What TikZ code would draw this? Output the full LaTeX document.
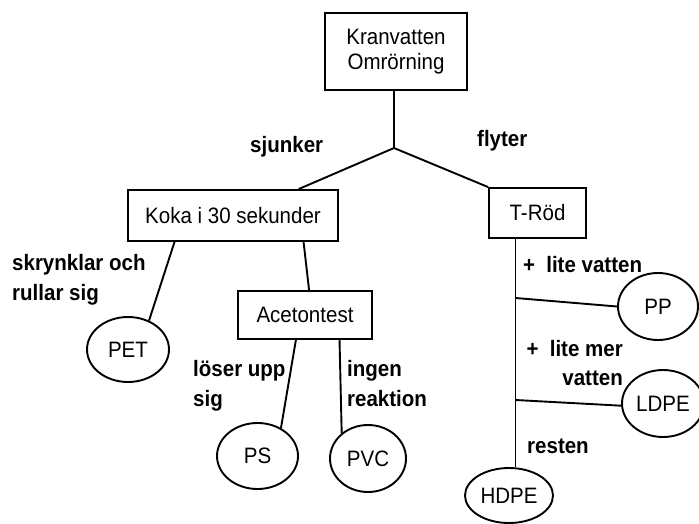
\documentclass[tikz,border=0pt]{standalone}
\usepackage{fontspec}
\setmainfont[FakeStretch=0.92]{Liberation Sans}
\usetikzlibrary{shapes.geometric,calc}
\begin{document}
\begin{tikzpicture}[x=1pt,y=-1pt,
  box/.style={draw, line width=1.9pt, inner sep=0pt, align=center,
    font=\fontsize{22.3}{25.5}\selectfont},
  oval/.style={draw, ellipse, line width=1.9pt, inner sep=0pt,
    font=\fontsize{22.3}{25}\selectfont},
  lbl/.style={inner sep=0pt, font=\fontsize{22.3}{29.5}\selectfont\bfseries},
  con/.style={line width=1.9pt}]
\useasboundingbox (0,0) rectangle (699,524);

% boxes
\node[box, minimum width=142pt, minimum height=77pt] (top) at (396,51.5) {Kranvatten\\Omrörning};
\node[box, minimum width=210pt, minimum height=51pt] (koka) at (233,215.5) {Koka i 30 sekunder};
\node[box, minimum width=97pt, minimum height=50pt] (trod) at (537.5,213) {T-Röd};
\node[box, minimum width=134pt, minimum height=48pt] (aceton) at (305,315) {Acetontest};

% ellipses
\node[oval, minimum width=82pt, minimum height=65pt] (pet) at (128,349.5) {PET};
\node[oval, minimum width=81pt, minimum height=66pt] (ps) at (257.5,456) {PS};
\node[oval, minimum width=76pt, minimum height=67pt] (pvc) at (368,458.5) {PVC};
\node[oval, minimum width=80pt, minimum height=67pt] (pp) at (658,306.5) {PP};
\node[oval, minimum width=82pt, minimum height=67pt] (ldpe) at (663,403.5) {LDPE};
\node[oval, minimum width=88pt, minimum height=55pt] (hdpe) at (509,495.5) {HDPE};

% connectors
\coordinate (j) at (394,148);
\draw[con] (j |- top.south) -- (j);
\draw[con] (j) -- ($(koka.north west)!0.81!(koka.north east)$);
\draw[con] (j) -- (trod.north west);
\draw[con] ($(koka.south west)!0.224!(koka.south east)$) -- (pet.54);
\draw[con] ($(koka.south west)!0.833!(koka.south east)$) -- ($(aceton.north west)!0.53!(aceton.north east)$);
\draw[con] ($(aceton.south west)!0.433!(aceton.south east)$) -- (ps.50);
\draw[con] ($(aceton.south west)!0.754!(aceton.south east)$) -- (pvc.136);
\coordinate (t1) at ($(trod.south west)!0.278!(trod.south east)$);
\draw[con] (t1) -- (t1 |- hdpe.north);
\coordinate (b1) at (t1 |- 0,298);
\coordinate (b2) at (t1 |- 0,400);
\draw[con] (b1) -- (pp.west);
\draw[con] (b2) -- (ldpe.183);

% labels
\node[lbl, anchor=base west] (lsj) at (250,153) {sjunker};
\node[lbl, anchor=base west] (lfl) at (477,147) {flyter};
\node[lbl, anchor=base west, align=left] (lsk) at (12,300) {skrynklar och\\rullar sig};
\node[lbl, anchor=base west, align=left] (llo) at (193,406) {löser upp\\sig};
\node[lbl, anchor=base west, align=left] (lin) at (347,406) {ingen\\reaktion};
\node[lbl, anchor=base west] (llv) at (523,272.7) {+\hspace{0.5em}lite vatten};
\node[lbl, anchor=base east, align=right] (llm) at (623,385.7) {+\hspace{0.5em}lite mer\\vatten};
\node[lbl, anchor=base west] (lre) at (527,453.3) {resten};
\end{tikzpicture}
\end{document}
